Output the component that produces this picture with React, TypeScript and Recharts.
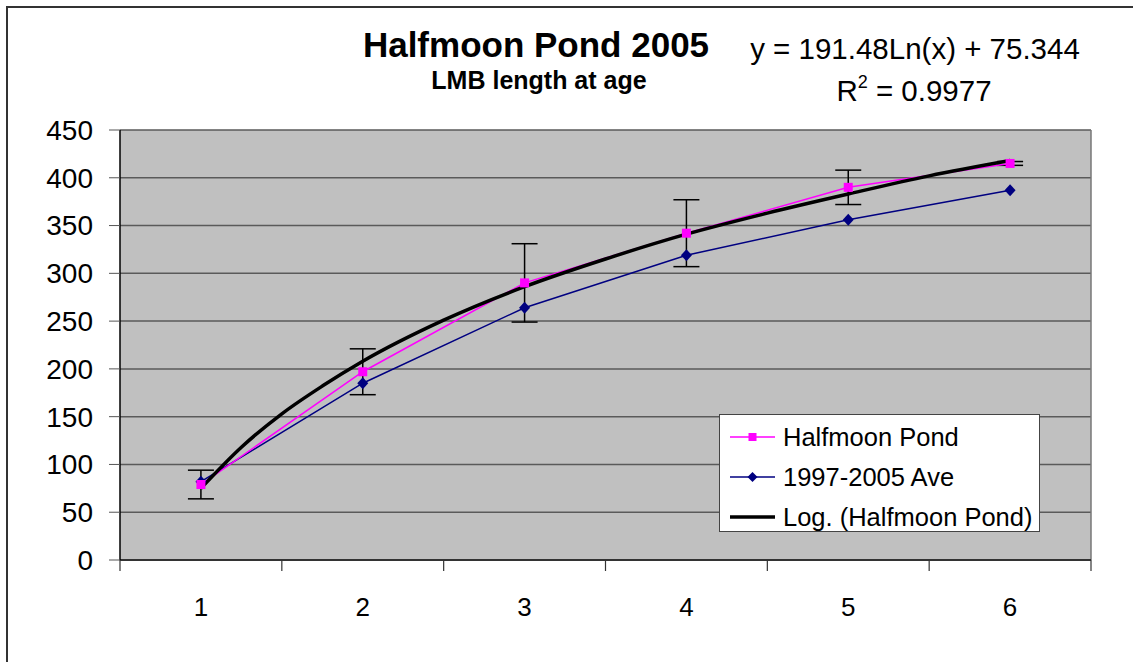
import {
  ComposedChart,
  Line,
  XAxis,
  YAxis,
  CartesianGrid,
  ErrorBar,
  Legend,
  ReferenceLine,
} from 'recharts';

// ages on the category axis
const ages = [1, 2, 3, 4, 5, 6];
// mean length at age, Halfmoon Pond 2005 (mm)
const halfmoonLength = [79, 197, 290, 342, 390, 415];
// error bar half-heights for Halfmoon Pond
const halfmoonError = [15, 24, 41, 35, 18, 2];
// 1997-2005 average
const averageLength = [82, 185, 264, 319, 356, 387];
// log trend line as drawn on the chart
const trendAges = [1, 1.25, 1.5, 1.75, 2, 2.5, 3, 3.5, 4, 4.5, 5, 5.5, 6];
const trendLength = [75, 118, 153, 182, 208, 251, 286, 315, 341, 363, 383, 402, 418];
const yTicks = [0, 50, 100, 150, 200, 250, 300, 350, 400, 450];
// tick marks sit between categories, labels on them
const xTicks = [0.5, 1, 1.5, 2, 2.5, 3, 3.5, 4, 4.5, 5, 5.5, 6, 6.5];

const rows = ages.map((age, i) => ({
  age,
  halfmoon: halfmoonLength[i],
  err: halfmoonError[i],
  average: averageLength[i],
}));
const trendRows = trendAges.map((age, i) => ({ age, trend: trendLength[i] }));

const FONT = '"Liberation Sans", Arial, sans-serif';
const PINK = '#FF00FF';
const NAVY = '#000080';

const squareDot = (p: any) => (
  <rect key={`sq-${p.index}`} x={p.cx - 4.5} y={p.cy - 4.5} width={9} height={9} fill={PINK} />
);

const diamondDot = (p: any) => (
  <path
    key={`dm-${p.index}`}
    d={`M${p.cx},${p.cy - 6}L${p.cx + 5.5},${p.cy}L${p.cx},${p.cy + 6}L${p.cx - 5.5},${p.cy}Z`}
    fill={NAVY}
  />
);

const AgeTick = (p: any) => {
  const v = p.payload.value;
  if (Number.isInteger(v)) {
    return (
      <text x={p.x} y={p.y + 56} textAnchor="middle" fontFamily={FONT} fontSize={26} fill="#000">
        {v}
      </text>
    );
  }
  return <line x1={p.x} x2={p.x} y1={p.y} y2={p.y + 11} stroke="#333" strokeWidth={1.2} />;
};

const legendItems = [
  { label: 'Halfmoon Pond', color: PINK, marker: 'square' },
  { label: '1997-2005 Ave', color: NAVY, marker: 'diamond' },
  { label: 'Log. (Halfmoon Pond)', color: '#000', marker: 'none' },
];

function LegendBox() {
  return (
    <div
      style={{
        width: 319,
        height: 116,
        background: '#fff',
        border: '1px solid #444',
        fontFamily: FONT,
        fontSize: 25.5,
        color: '#000',
        position: 'relative',
      }}
    >
      {legendItems.map((item, i) => (
        <div
          key={item.label}
          style={{ position: 'absolute', left: 10, top: 22 + i * 40 - 15, height: 30, display: 'flex', alignItems: 'center' }}
        >
          <svg width={46} height={30} style={{ display: 'block' }}>
            <line x1={0} x2={45} y1={15} y2={15} stroke={item.color} strokeWidth={item.marker === 'none' ? 3.5 : 1.5} />
            {item.marker === 'square' && <rect x={18.5} y={11} width={8} height={8} fill={PINK} />}
            {item.marker === 'diamond' && <path d="M22.5,10L27.5,15L22.5,20L17.5,15Z" fill={NAVY} />}
          </svg>
          <span style={{ marginLeft: 7, whiteSpace: 'nowrap' }}>{item.label}</span>
        </div>
      ))}
    </div>
  );
}

export default function App() {
  return (
    <div style={{ position: 'fixed', left: 0, top: 0, width: 1133, height: 662, overflow: 'hidden', background: '#fff' }}>
      <div
        style={{
          position: 'absolute',
          left: 6,
          top: 6,
          width: 1200,
          height: 700,
          border: '2px solid #333',
        }}
      />
      <div style={{ position: 'absolute', left: 0, top: 0 }}>
        <ComposedChart width={1133} height={662} margin={{ top: 130, right: 42, bottom: 52, left: 60 }}>
          <CartesianGrid horizontal vertical={false} fill="#C0C0C0" fillOpacity={1} stroke="#5a5a5a" strokeWidth={1.5} />
          <XAxis
            dataKey="age"
            type="number"
            domain={[0.5, 6.5]}
            ticks={xTicks}
            interval={0}
            tick={AgeTick}
            tickSize={0}
            tickMargin={0}
            height={50}
            axisLine={{ stroke: '#333', strokeWidth: 2 }}
            tickLine={false}
            allowDataOverflow
          />
          <YAxis
            type="number"
            domain={[0, 450]}
            ticks={yTicks}
            width={60}
            tickSize={11}
            tickMargin={16}
            axisLine={{ stroke: '#000', strokeWidth: 1.5 }}
            tickLine={{ stroke: '#555' }}
            tick={{ fill: '#000', fontSize: 28, fontFamily: FONT }}
            interval={0}
          />
          <ReferenceLine x={6.5} stroke="#777" strokeWidth={1.5} />
          <Line
            data={rows}
            dataKey="average"
            stroke={NAVY}
            strokeWidth={1.5}
            dot={diamondDot}
            activeDot={false}
            isAnimationActive={false}
          />
          <Line
            data={rows}
            dataKey="halfmoon"
            stroke={PINK}
            strokeWidth={1.5}
            dot={squareDot}
            activeDot={false}
            isAnimationActive={false}
          >
            <ErrorBar dataKey="err" direction="y" width={13} stroke="#000" strokeWidth={1.5} />
          </Line>
          <Line
            data={trendRows}
            dataKey="trend"
            type="monotone"
            stroke="#000"
            strokeWidth={3.5}
            dot={false}
            activeDot={false}
            isAnimationActive={false}
          />
          <Legend
            layout="vertical"
            align="center"
            verticalAlign="middle"
            content={() => <LegendBox />}
            wrapperStyle={{ left: 719, top: 414, width: 321, height: 118 }}
          />
        </ComposedChart>
      </div>
      <svg width={1133} height={662} style={{ position: 'absolute', left: 0, top: 0, pointerEvents: 'none' }}>
        <text x={536} y={57} textAnchor="middle" fontFamily={FONT} fontWeight="bold" fontSize={35} fill="#000">
          Halfmoon Pond 2005
        </text>
        <text x={539} y={89} textAnchor="middle" fontFamily={FONT} fontWeight="bold" fontSize={25} fill="#000">
          LMB length at age
        </text>
        <text x={915} y={59} textAnchor="middle" fontFamily={FONT} fontSize={29.5} fill="#000">
          y = 191.48Ln(x) + 75.344
        </text>
        <text x={914} y={101} textAnchor="middle" fontFamily={FONT} fontSize={29.5} fill="#000">
          R<tspan fontSize={18} dy={-13}>2</tspan>
          <tspan dy={13}> = 0.9977</tspan>
        </text>
      </svg>
    </div>
  );
}
